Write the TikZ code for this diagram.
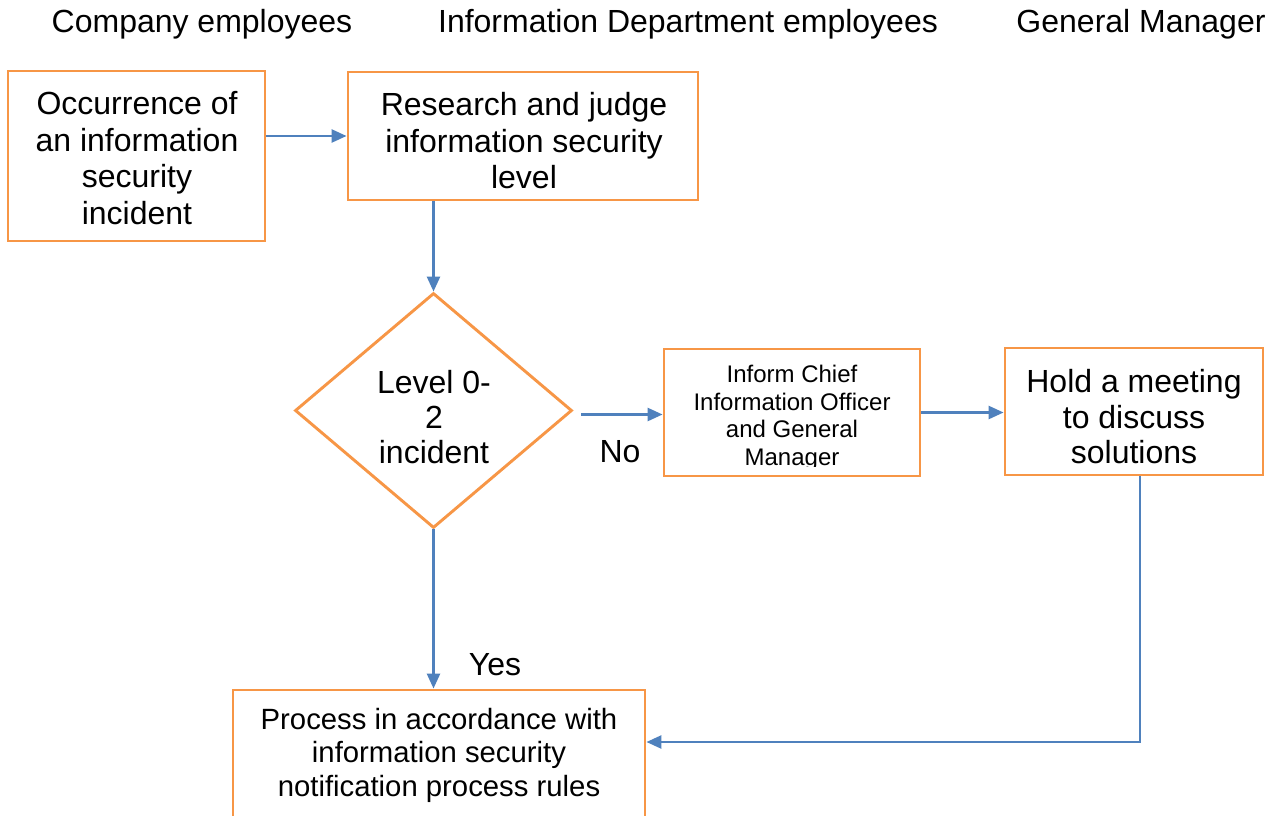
\documentclass[tikz,border=0pt]{standalone}
\usepackage{fontspec}
\setmainfont{Liberation Sans}
\usetikzlibrary{arrows.meta,shapes.geometric}
\definecolor{boxorange}{HTML}{F79646}
\definecolor{flowblue}{HTML}{4F81BD}
\begin{document}
\begin{tikzpicture}[x=1pt,y=-1pt,
  box/.style={draw=boxorange, line width=2.9pt, fill=white, inner sep=0pt},
  txt/.style={align=center, inner sep=0pt, font=\fontsize{32}{36.5}\selectfont},
  smalltxt/.style={align=center, inner sep=0pt, font=\fontsize{24}{27.5}\selectfont},
  flow/.style={draw=flowblue, line width=2.6pt, -{Triangle[length=15pt,width=13pt]}},
  head/.style={inner sep=0pt, font=\fontsize{32}{36}\selectfont}]
\clip (0,0) rectangle (1274,816);
\fill[white] (0,0) rectangle (1274,816);

% column headings
\node[head] (h1) at (202,24) {Company employees};
\node[head] (h2) at (688,24) {Information Department employees};
\node[head] (h3) at (1141,24) {General Manager};

% process boxes
\node[box, minimum width=257pt, minimum height=170pt] (A) at (136.5,156) {};
\node[txt] (At) at (137,158) {Occurrence of\\an information\\security\\incident};

\node[box, minimum width=350pt, minimum height=128pt] (B) at (523,136) {};
\node[txt] (Bt) at (524,141) {Research and judge\\information security\\level};

\node[draw=boxorange, line width=2.9pt, diamond, inner sep=0pt,
      minimum width=277pt, minimum height=235pt] (dia) at (433.5,410.5) {};
\node[txt, font=\fontsize{32}{35}\selectfont] (diat) at (434,417) {Level 0-\\2\\incident};

\node[box, minimum width=256pt, minimum height=127pt] (C) at (792,412.5) {};
\begin{scope}
  \clip ([yshift=-1pt]C.north west) rectangle ([yshift=11pt]C.south east);
  \node[smalltxt] (Ct) at (792,418) {Inform Chief\\Information Officer\\and General\\Manager};
\end{scope}

\node[box, minimum width=258pt, minimum height=127pt] (D) at (1134,411.5) {};
\node[txt, font=\fontsize{32}{35.5}\selectfont] (Dt) at (1134,417) {Hold a meeting\\to discuss\\solutions};

\node[box, minimum width=412pt, minimum height=130pt] (E) at (439,755) {};
\node[txt, font=\fontsize{29.3}{33.5}\selectfont] (Et) at (439,755) {Process in accordance with\\information security\\notification process rules};

% branch labels
\node[head] (no) at (620,452) {No};
\node[head] (yes) at (495,665) {Yes};

% connectors
\draw[flow] (A.east |- B.west) -- (B.west);
\draw[flow] (dia.north |- B.south) -- (dia.north);
\draw[flow] ([xshift=8pt,yshift=-4pt]dia.east) -- ([yshift=-4pt]dia.east -| C.west);
\draw[flow] (C.east) -- (C.east -| D.west);
\draw[flow] (dia.south) -- (dia.south |- E.north);
\draw[flow] ([xshift=6pt]D.south) |- ([yshift=13pt]E.east);
\end{tikzpicture}
\end{document}
